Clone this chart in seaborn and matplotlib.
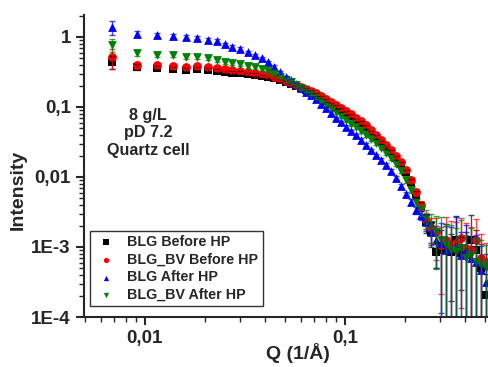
import numpy as np
import pandas as pd
import matplotlib
matplotlib.use("Agg")
import matplotlib.pyplot as plt
from matplotlib.ticker import FixedLocator, FixedFormatter, LogLocator, NullFormatter
import seaborn as sns

# scattering vector, shared by all four curves
q = [0.00684, 0.00912, 0.01148, 0.0138, 0.0160, 0.0182, 0.02065, 0.0229, 0.0251, 0.0272,
     0.0299, 0.0327, 0.0355, 0.0385, 0.0412, 0.0442, 0.0473, 0.0507, 0.0537, 0.0569,
     0.0603, 0.0638, 0.0676, 0.0716, 0.0759, 0.0804, 0.0851, 0.0902, 0.0955, 0.1012,
     0.1072, 0.1135, 0.1202, 0.1274, 0.1349, 0.1429, 0.1514, 0.1603, 0.1698, 0.1799,
     0.1905, 0.2018, 0.2138, 0.2265, 0.2399, 0.2541, 0.2692, 0.2851, 0.3020, 0.3199,
     0.3388, 0.3589, 0.3802, 0.4027, 0.4266, 0.4519, 0.4786, 0.5070]

# intensities
blg_before = [0.439, 0.373, 0.361, 0.349, 0.338, 0.349, 0.338, 0.327, 0.316, 0.306,
              0.306, 0.296, 0.287, 0.277, 0.268, 0.260, 0.243, 0.228, 0.213, 0.200,
              0.187, 0.175, 0.164, 0.149, 0.135, 0.122, 0.110, 0.100, 0.0906, 0.0821,
              0.0744, 0.0652, 0.0591, 0.0518, 0.0439, 0.0373, 0.0316, 0.0268, 0.0228, 0.0187,
              0.0154, 0.0118, 0.00848, 0.00572, 0.00385, 0.00228, 0.00164, 0.000848, 0.000906, 0.00107,
              0.000848, 0.00126, 0.000820, 0.000769, 0.00126, 0.000906, 0.000501, 0.000206]
blg_bv_before = [0.518, 0.398, 0.398, 0.385, 0.373, 0.385, 0.373, 0.361, 0.349, 0.338,
                 0.327, 0.316, 0.306, 0.296, 0.287, 0.268, 0.251, 0.235, 0.220, 0.206,
                 0.193, 0.181, 0.170, 0.159, 0.144, 0.130, 0.118, 0.107, 0.0968, 0.0877,
                 0.0794, 0.0696, 0.0631, 0.0553, 0.0469, 0.0398, 0.0338, 0.0287, 0.0243, 0.0200,
                 0.0164, 0.0126, 0.00906, 0.00610, 0.00398, 0.00243, 0.00187, 0.00164, 0.00107, 0.00126,
                 0.00107, 0.00114, 0.00135, 0.000968, 0.000906, 0.00126, 0.000696, 0.000610]
blg_after = [1.39, 1.12, 1.08, 1.04, 1.00, 0.98, 0.906, 0.877, 0.794, 0.720,
             0.674, 0.610, 0.553, 0.501, 0.439, 0.373, 0.316, 0.268, 0.243, 0.213,
             0.187, 0.164, 0.149, 0.130, 0.110, 0.0968, 0.0821, 0.0696, 0.0610, 0.0518,
             0.0454, 0.0398, 0.0338, 0.0287, 0.0243, 0.0206, 0.0175, 0.0149, 0.0122, 0.00968,
             0.00744, 0.00572, 0.00439, 0.00338, 0.00287, 0.00228, 0.00164, 0.00126, 0.00114, 0.000906,
             0.000968, 0.00107, 0.000769, 0.000906, 0.000696, 0.000610, 0.000469, 0.000316]
blg_bv_after = [0.769, 0.591, 0.553, 0.553, 0.518, 0.518, 0.501, 0.469, 0.439, 0.425,
                0.411, 0.385, 0.373, 0.349, 0.327, 0.296, 0.268, 0.243, 0.228, 0.206,
                0.187, 0.170, 0.154, 0.139, 0.122, 0.110, 0.0968, 0.0848, 0.0744, 0.0652,
                0.0572, 0.0518, 0.0454, 0.0398, 0.0349, 0.0306, 0.0260, 0.0220, 0.0187, 0.0154,
                0.0122, 0.00906, 0.00652, 0.00439, 0.00338, 0.00260, 0.00206, 0.00164, 0.00126, 0.00107,
                0.000906, 0.000848, 0.000968, 0.000696, 0.000769, 0.000610, 0.000553, 0.000501]

# relative errors (error bar / intensity)
blg_before_rel = [0.20, 0.10, 0.07, 0.06, 0.05, 0.05, 0.05, 0.05, 0.05, 0.05,
                  0.05, 0.05, 0.05, 0.05, 0.05, 0.05, 0.05, 0.05, 0.05, 0.05,
                  0.05, 0.05, 0.05, 0.05, 0.05, 0.05, 0.05, 0.05, 0.05, 0.05,
                  0.05, 0.05, 0.05, 0.05, 0.05, 0.05, 0.05, 0.05, 0.06, 0.06,
                  0.07, 0.08, 0.10, 0.12, 0.15, 0.30, 0.40, 0.40, 0.90, 1.00,
                  0.80, 1.20, 0.70, 1.10, 1.30, 0.90, 1.20, 1.00]
blg_bv_before_rel = [0.32, 0.12, 0.07, 0.06, 0.05, 0.05, 0.05, 0.05, 0.05, 0.05,
                     0.05, 0.05, 0.05, 0.05, 0.05, 0.05, 0.05, 0.05, 0.05, 0.05,
                     0.05, 0.05, 0.05, 0.05, 0.05, 0.05, 0.05, 0.05, 0.05, 0.05,
                     0.05, 0.05, 0.05, 0.05, 0.05, 0.05, 0.05, 0.05, 0.06, 0.06,
                     0.07, 0.08, 0.10, 0.12, 0.15, 0.25, 0.40, 0.60, 0.80, 1.10,
                     1.20, 1.00, 0.90, 1.30, 1.10, 1.00, 1.20, 0.90]
blg_after_rel = [0.22, 0.10, 0.07, 0.06, 0.05, 0.05, 0.05, 0.05, 0.05, 0.05,
                 0.05, 0.05, 0.05, 0.05, 0.05, 0.05, 0.05, 0.05, 0.05, 0.05,
                 0.05, 0.05, 0.05, 0.05, 0.05, 0.05, 0.05, 0.05, 0.05, 0.05,
                 0.05, 0.05, 0.05, 0.05, 0.05, 0.05, 0.05, 0.05, 0.06, 0.06,
                 0.07, 0.08, 0.10, 0.12, 0.15, 0.25, 0.35, 0.60, 0.90, 1.20,
                 1.00, 1.50, 1.10, 1.30, 1.00, 1.40, 1.20, 1.50]
blg_bv_after_rel = [0.20, 0.10, 0.07, 0.06, 0.05, 0.05, 0.05, 0.05, 0.05, 0.05,
                    0.05, 0.05, 0.05, 0.05, 0.05, 0.05, 0.05, 0.05, 0.05, 0.05,
                    0.05, 0.05, 0.05, 0.05, 0.05, 0.05, 0.05, 0.05, 0.05, 0.05,
                    0.05, 0.05, 0.05, 0.05, 0.05, 0.05, 0.05, 0.05, 0.06, 0.06,
                    0.07, 0.08, 0.10, 0.12, 0.18, 0.30, 0.45, 0.70, 1.10, 1.00,
                    1.30, 1.20, 1.50, 1.10, 1.40, 1.20, 1.30, 1.10]

labels = ["BLG Before HP", "BLG_BV Before HP", "BLG After HP", "BLG_BV After HP"]
colors = ["#000000", "#ff0000", "#0000ff", "#008000"]
markers = ["s", "o", "^", "v"]

ytick_vals = [1e-4, 1e-3, 1e-2, 1e-1, 1]
ytick_labels = ["1E-4", "1E-3", "0,01", "0,1", "1"]
xtick_vals = [0.01, 0.1]
xtick_labels = ["0,01", "0,1"]

sns.set_style("ticks")
plt.rcParams['font.family'] = ['Liberation Sans', 'DejaVu Sans']
plt.rcParams['font.weight'] = 'bold'

fig = plt.figure(figsize=(4.88, 3.67), dpi=100)
ax = fig.add_axes([84 / 488, 1 - 317 / 367, 404 / 488, 302 / 367])
ax.set_xscale('log')
ax.set_yscale('log')

series = [(blg_before, blg_before_rel), (blg_bv_before, blg_bv_before_rel),
          (blg_after, blg_after_rel), (blg_bv_after, blg_bv_after_rel)]

for (vals, rel), lab, col, mk in zip(series, labels, colors, markers):
    df = pd.DataFrame({'Q': q, 'I': vals})
    df['err'] = df['I'] * np.array(rel)
    ax.errorbar(df['Q'], df['I'], yerr=df['err'], fmt='none', ecolor=col,
                elinewidth=1, capsize=2.5, capthick=1, alpha=0.7)
    sns.scatterplot(data=df, x='Q', y='I', marker=mk, color=col, s=40,
                    linewidth=0, label=lab, ax=ax)

ax.set_xlim(0.00496, 0.519)
ax.set_ylim(1e-4, 2.06)

ax.yaxis.set_major_locator(FixedLocator(ytick_vals))
ax.yaxis.set_major_formatter(FixedFormatter(ytick_labels))
ax.yaxis.set_minor_locator(LogLocator(base=10, subs=np.arange(2, 10)))
ax.yaxis.set_minor_formatter(NullFormatter())
ax.xaxis.set_major_locator(FixedLocator(xtick_vals))
ax.xaxis.set_major_formatter(FixedFormatter(xtick_labels))
ax.xaxis.set_minor_locator(LogLocator(base=10, subs=np.arange(2, 10)))
ax.xaxis.set_minor_formatter(NullFormatter())

sns.despine(ax=ax)
for s in ['left', 'bottom']:
    ax.spines[s].set_linewidth(1.5)
ax.tick_params(which='major', direction='out', length=6, width=1.5, labelsize=13.5)
ax.tick_params(which='minor', direction='out', length=3.5, width=1)
for t in ax.get_xticklabels() + ax.get_yticklabels():
    t.set_fontweight('bold')

ax.set_xlabel('Q (1/Å)', fontsize=14, fontweight='bold')
ax.set_ylabel('Intensity', fontsize=14, fontweight='bold')
ax.xaxis.set_label_coords(0.53, -0.085)
ax.yaxis.set_label_coords(-0.141, 0.42)

ax.text(0.158, 0.692, "8 g/L\npD 7.2\nQuartz cell", transform=ax.transAxes,
        ha='center', va='top', fontsize=11.6, fontweight='bold', multialignment='center')

leg = ax.legend(loc='upper left', bbox_to_anchor=(0.015, 0.285), frameon=True,
                fancybox=False, edgecolor='black', prop={'weight': 'bold', 'size': 10.3},
                handletextpad=0.7, labelspacing=0.25, borderpad=0.3, handlelength=1.6,
                markerscale=0.6, borderaxespad=0)
leg.get_frame().set_linewidth(1)

fig.savefig("out.png", dpi=100)
